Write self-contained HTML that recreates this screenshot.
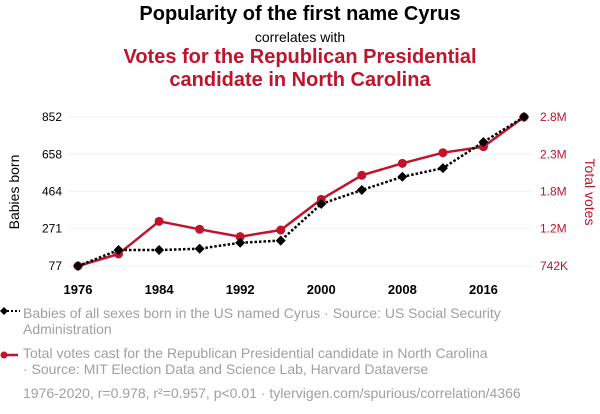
<!DOCTYPE html>
<html><head><meta charset="utf-8"><style>
body{margin:0;width:600px;height:414px;background:#fff;font-family:"Liberation Sans",sans-serif;position:relative;overflow:hidden}
.t{position:absolute;left:0;width:600px;text-align:center}
.leg{position:absolute;left:23px;font-size:14px;color:#a0a0a0;line-height:16px}
</style></head><body>
<div class="t" style="top:3px;font-size:20px;font-weight:bold;color:#000">Popularity of the first name Cyrus</div>
<div class="t" style="top:29px;font-size:14px;color:#000">correlates with</div>
<div class="t" style="top:46px;font-size:20px;font-weight:bold;color:#c0142c;line-height:23px">Votes for the Republican Presidential<br>candidate in North Carolina</div>
<svg id="chart" width="600" height="300" style="position:absolute;left:0;top:0"></svg>
<div>
<svg style="position:absolute;left:0;top:306px" width="22" height="10"><line x1="3" y1="5" x2="20" y2="5" stroke="#000" stroke-width="2" stroke-dasharray="2,2"/><path d="M0 5L4 1L8 5L4 9Z" fill="#000"/></svg>
<div class="leg" style="top:305px">Babies of all sexes born in the US named Cyrus · Source: US Social Security<br>Administration</div></div>
<div>
<svg style="position:absolute;left:0;top:350px" width="22" height="10"><line x1="3" y1="5" x2="18" y2="5" stroke="#c0142c" stroke-width="2.5"/><circle cx="4" cy="5" r="3.5" fill="#c0142c"/></svg>
<div class="leg" style="top:345px">Total votes cast for the Republican Presidential candidate in North Carolina<br>· Source: MIT Election Data and Science Lab, Harvard Dataverse</div></div>
<div class="leg" style="top:385px">1976-2020, r=0.978, r²=0.957, p&lt;0.01 · tylervigen.com/spurious/correlation/4366</div>
<script>
const years=[1976,1980,1984,1988,1992,1996,2000,2004,2008,2012,2016,2020];
const babies=[77,160,160,167,198,209,400,472,541,586,722,852];
const votes=[742,908,1359,1249,1147,1239,1663,1995,2160,2307,2390,2800];
const xTicks=[1976,1984,1992,2000,2008,2016];
const leftTicks=[77,271,464,658,852];
const rightTickLabels=["742K","1.2M","1.8M","2.3M","2.8M"];
const NS="http://www.w3.org/2000/svg";
const svg=document.getElementById('chart');
const X=y=>78+(y-1976)*(524-78)/44;
const YL=v=>266-(v-77)*(266-117)/(852-77);
const YR=v=>266-(v-742)*(266-117)/(2800-742);
function mk(t,a,p){const e=document.createElementNS(NS,t);for(const k in a)e.setAttribute(k,a[k]);(p||svg).appendChild(e);return e;}
leftTicks.forEach((v,i)=>{const y=YL(v);
const g=mk('line',{x1:69,x2:531,y1:y,y2:y,stroke:'#f0f0f0','stroke-width':1});


const t=mk('text',{x:62,y:y+4,'text-anchor':'end','font-size':12,fill:'#000'});t.textContent=v;


const r=mk('text',{x:540,y:y+4,'font-size':12,fill:'#c0142c'});r.textContent=rightTickLabels[i];


});
xTicks.forEach(v=>{const t=mk('text',{x:X(v),y:294,'text-anchor':'middle','font-size':13,'font-weight':'bold',fill:'#000'});t.textContent=v;


});
let a=mk('text',{transform:'translate(19,192) rotate(-90)','text-anchor':'middle','font-size':14,fill:'#000'});a.textContent='Babies born';


a=mk('text',{transform:'translate(585,192) rotate(90)','text-anchor':'middle','font-size':14,fill:'#c0142c'});a.textContent='Total votes';


const rl=mk('polyline',{points:years.map((y,i)=>X(y)+','+YR(votes[i])).join(' '),fill:'none',stroke:'#c0142c','stroke-width':2.5});


years.forEach((y,i)=>{const c=mk('circle',{cx:X(y),cy:YR(votes[i]),r:4.5,fill:'#c0142c'});

});
const bl=mk('polyline',{points:years.map((y,i)=>X(y)+','+YL(babies[i])).join(' '),fill:'none',stroke:'#000','stroke-width':2.5,'stroke-dasharray':'2.5,2'});


years.forEach((y,i)=>{const x=X(y),yy=YL(babies[i]);const p=mk('path',{d:`M${x-5} ${yy}L${x} ${yy-5}L${x+5} ${yy}L${x} ${yy+5}Z`,fill:'#000'});

});
</script>
</body></html>
